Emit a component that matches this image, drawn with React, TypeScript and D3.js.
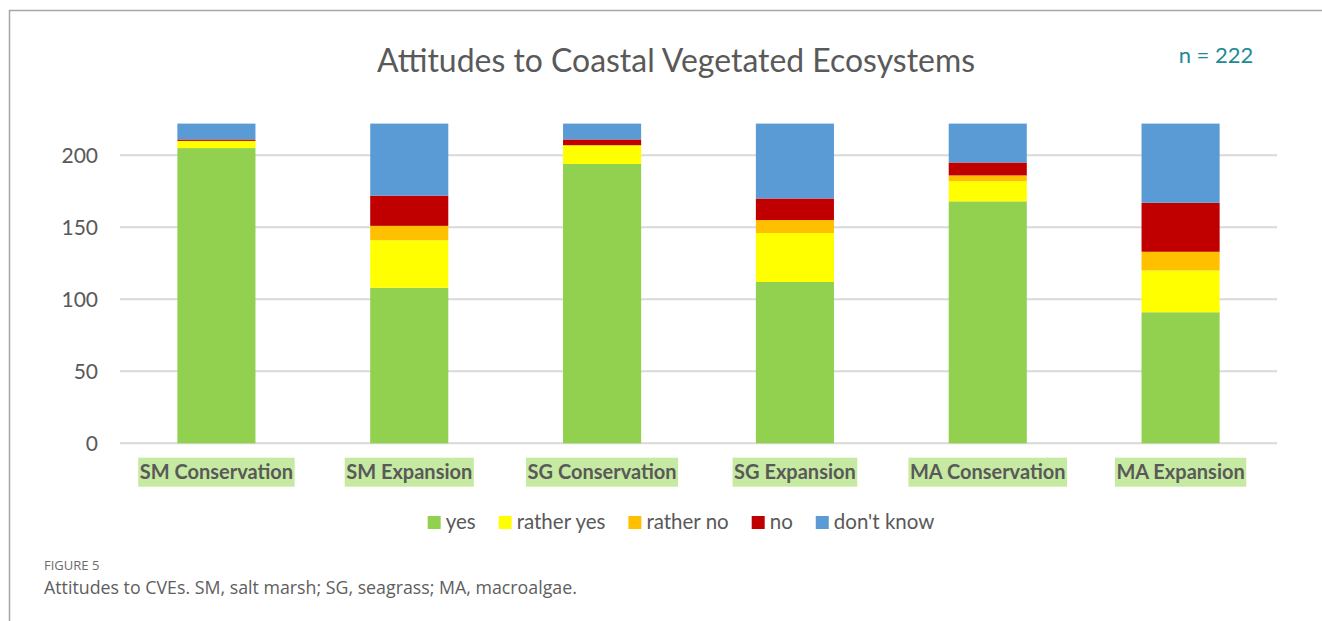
import React, { useEffect, useRef } from "react";
import * as d3 from "d3";

// Survey responses per category (n = 222 respondents)
const categories = [
  "SM Conservation",
  "SM Expansion",
  "SG Conservation",
  "SG Expansion",
  "MA Conservation",
  "MA Expansion",
];
const yes = [205, 108, 194, 112, 168, 91];
const ratherYes = [5, 33, 13, 34, 14, 29];
const ratherNo = [0, 10, 0, 9, 4, 13];
const no = [1, 21, 4, 15, 9, 34];
const dontKnow = [11, 50, 11, 52, 27, 55];

const seriesNames = ["yes", "rather yes", "rather no", "no", "don't know"];
const seriesColors = ["#92D050", "#FFFF00", "#FFC000", "#C00000", "#5B9BD5"];
const yTicks = [0, 50, 100, 150, 200];
const total = 222;

const W = 1322;
const H = 621;
const FONT = "Lato, 'Open Sans', sans-serif";

export default function App() {
  const ref = useRef<SVGSVGElement | null>(null);

  useEffect(() => {
    const svg = d3.select(ref.current);
    svg.selectAll("*").remove();

    const rows = categories.map((c, i) => ({
      category: c,
      [seriesNames[0]]: yes[i],
      [seriesNames[1]]: ratherYes[i],
      [seriesNames[2]]: ratherNo[i],
      [seriesNames[3]]: no[i],
      [seriesNames[4]]: dontKnow[i],
    }));

    const x = d3
      .scaleBand<string>()
      .domain(categories)
      .range([120, 1277])
      .paddingInner(0.595)
      .paddingOuter(0.2975);
    const y = d3.scaleLinear().domain([0, total]).range([443.3, 123.6]);

    // outer frame (top and left rules)
    svg
      .append("path")
      .attr("d", `M9.5,${H} V10.5 H${W}`)
      .attr("fill", "none")
      .attr("stroke", "#a6a6a6")
      .attr("stroke-width", 1.5);

    // gridlines
    svg
      .append("g")
      .selectAll("line")
      .data(yTicks)
      .join("line")
      .attr("x1", 120)
      .attr("x2", 1277)
      .attr("y1", (d) => y(d))
      .attr("y2", (d) => y(d))
      .attr("stroke", "#d9d9d9")
      .attr("stroke-width", 2);

    // y tick labels
    svg
      .append("g")
      .selectAll("text")
      .data(yTicks)
      .join("text")
      .attr("x", 98)
      .attr("y", (d) => y(d) + 7.5)
      .attr("text-anchor", "end")
      .attr("font-family", FONT)
      .attr("font-size", 21)
      .attr("fill", "#595959")
      .text((d) => String(d));

    // stacked bars
    const stack = d3.stack<any>().keys(seriesNames);
    const layers = stack(rows as any);
    svg
      .append("g")
      .selectAll("g")
      .data(layers)
      .join("g")
      .attr("fill", (_d, i) => seriesColors[i])
      .selectAll("rect")
      .data((d) => d)
      .join("rect")
      .attr("x", (d: any) => x(d.data.category)!)
      .attr("width", x.bandwidth())
      .attr("y", (d) => y(d[1]))
      .attr("height", (d) => y(d[0]) - y(d[1]));

    // category labels with highlighted background
    const labelG = svg.append("g");
    categories.forEach((c) => {
      const g = labelG.append("g");
      const cx = x(c)! + x.bandwidth() / 2;
      const bg = g.append("rect").attr("fill", "#C6EAA2");
      const t = g
        .append("text")
        .attr("x", cx)
        .attr("y", 479)
        .attr("text-anchor", "middle")
        .attr("font-family", FONT)
        .attr("font-weight", 700)
        .attr("font-size", 20)
        .attr("fill", "#595959")
        .text(c);
      const len = (t.node() as SVGTextElement).getComputedTextLength();
      bg.attr("x", cx - len / 2 - 1.5)
        .attr("width", len + 3)
        .attr("y", 457.7)
        .attr("height", 29);
    });

    // title
    svg
      .append("text")
      .attr("x", 676)
      .attr("y", 72)
      .attr("text-anchor", "middle")
      .attr("font-family", FONT)
      .attr("font-size", 32)
      .attr("fill", "#595959")
      .attr("textLength", 598)
      .attr("lengthAdjust", "spacingAndGlyphs")
      .text("Attitudes to Coastal Vegetated Ecosystems");

    // sample size note
    svg
      .append("text")
      .attr("x", 1216)
      .attr("y", 63)
      .attr("text-anchor", "middle")
      .attr("font-family", FONT)
      .attr("font-size", 22)
      .attr("fill", "#208B93")
      .text("n = 222");

    // legend
    const legend = svg.append("g");
    let cursor = 0;
    seriesNames.forEach((name, i) => {
      const item = legend.append("g").attr("transform", `translate(${cursor},0)`);
      item
        .append("rect")
        .attr("x", 0)
        .attr("y", 516)
        .attr("width", 13)
        .attr("height", 13)
        .attr("fill", seriesColors[i]);
      const t = item
        .append("text")
        .attr("x", 18)
        .attr("y", 529)
        .attr("font-family", FONT)
        .attr("font-size", 20.5)
        .attr("fill", "#595959")
        .text(name);
      const len = (t.node() as SVGTextElement).getComputedTextLength();
      cursor += 18 + len + 23;
    });
    const legendWidth = cursor - 23;
    legend.attr("transform", `translate(${681 - legendWidth / 2},0)`);

    // figure caption
    svg
      .append("text")
      .attr("x", 44)
      .attr("y", 570)
      .attr("font-family", "'Open Sans', sans-serif")
      .attr("font-size", 13)
      .attr("fill", "#6b6b6b")
      .text("FIGURE 5");
    svg
      .append("text")
      .attr("x", 44)
      .attr("y", 594)
      .attr("font-family", "'Open Sans', sans-serif")
      .attr("font-size", 17.8)
      .attr("fill", "#5e5e5e")
      .text("Attitudes to CVEs. SM, salt marsh; SG, seagrass; MA, macroalgae.");
  }, []);

  return (
    <svg
      ref={ref}
      width={W}
      height={H}
      style={{ position: "absolute", left: 0, top: 0, background: "#fff" }}
    />
  );
}
